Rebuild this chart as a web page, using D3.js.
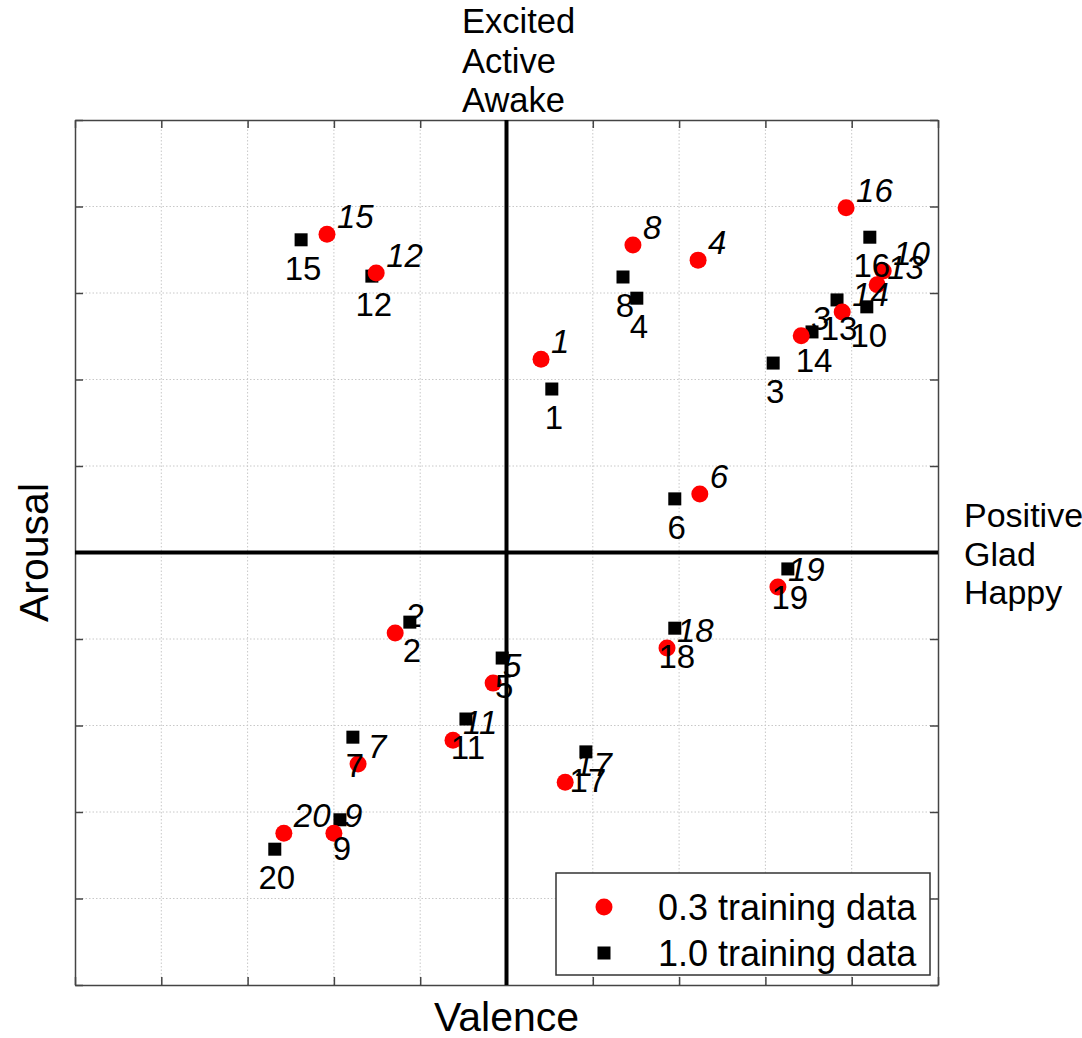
<!DOCTYPE html>
<html>
<head>
<meta charset="utf-8">
<script src="https://cdn.jsdelivr.net/npm/d3@7"></script>
<style>
  html, body { margin: 0; padding: 0; background: #fff; }
  svg { display: block; font-family: "Liberation Sans", Arial, Helvetica, sans-serif; }
</style>
</head>
<body>
<svg id="chart" width="1082" height="1038"></svg>
<script>
// Stimulus ids shown next to each marker
const ids = ["1","2","3","4","5","6","7","8","9","10","11","12","13","14","15","16","17","18","19","20"];

// Valence / arousal estimates with 0.3 of the training data
const valence03 = [0.080,-0.258,0.683,0.444,-0.031,0.448,-0.344,0.293,-0.400,0.873,-0.124,-0.302,0.859,0.778,-0.416,0.787,0.136,0.372,0.629,-0.516];
const arousal03 = [0.447,-0.186,0.501,0.676,-0.302,0.135,-0.489,0.711,-0.649,0.651,-0.434,0.646,0.619,0.556,0.736,0.797,-0.531,-0.221,-0.080,-0.649];

// Valence / arousal estimates with the full training data
const valence10 = [0.105,-0.224,0.618,0.302,-0.010,0.390,-0.356,0.270,-0.386,0.835,-0.094,-0.312,0.766,0.708,-0.476,0.842,0.184,0.390,0.652,-0.537];
const arousal10 = [0.378,-0.161,0.438,0.588,-0.244,0.124,-0.427,0.637,-0.618,0.568,-0.385,0.639,0.584,0.510,0.723,0.729,-0.461,-0.175,-0.038,-0.686];

const tickValues = [-1,-0.8,-0.6,-0.4,-0.2,0,0.2,0.4,0.6,0.8,1];
const seriesNames = ["0.3 training data", "1.0 training data"];
const arousalWords = ["Excited", "Active", "Awake"];
const valenceWords = ["Positive", "Glad", "Happy"];

const pts03 = ids.map((id, i) => ({id, v: valence03[i], a: arousal03[i]}));
const pts10 = ids.map((id, i) => ({id, v: valence10[i], a: arousal10[i]}));

const margin = {left: 75, right: 144, top: 120, bottom: 53};
const W = 1082, H = 1038;
const svg = d3.select("#chart");

const x = d3.scaleLinear().domain([-1, 1]).range([margin.left, W - margin.right]);
const y = d3.scaleLinear().domain([-1, 1]).range([H - margin.bottom, margin.top]);

const g = svg.append("g");

// dotted grid
g.append("g").selectAll("line.gx").data(tickValues.slice(1, -1)).join("line")
  .attr("x1", d => x(d)).attr("x2", d => x(d))
  .attr("y1", y(-1)).attr("y2", y(1))
  .attr("stroke", "#c8c8c8").attr("stroke-width", 1).attr("stroke-dasharray", "1.5,2");
g.append("g").selectAll("line.gy").data(tickValues.slice(1, -1)).join("line")
  .attr("y1", d => y(d)).attr("y2", d => y(d))
  .attr("x1", x(-1)).attr("x2", x(1))
  .attr("stroke", "#c8c8c8").attr("stroke-width", 1).attr("stroke-dasharray", "1.5,2");

// box axes with inward ticks and no tick labels
function styleAxis(sel) {
  sel.select(".domain").attr("stroke", "#444").attr("stroke-width", 1.5);
  sel.selectAll(".tick line").attr("stroke", "#444").attr("stroke-width", 1.5);
  sel.selectAll(".tick text").remove();
}
g.append("g").attr("transform", `translate(0,${y(-1)})`)
  .call(d3.axisBottom(x).tickValues(tickValues).tickSizeInner(-8).tickSizeOuter(0)).call(styleAxis);
g.append("g").attr("transform", `translate(0,${y(1)})`)
  .call(d3.axisTop(x).tickValues(tickValues).tickSizeInner(-8).tickSizeOuter(0)).call(styleAxis);
g.append("g").attr("transform", `translate(${x(-1)},0)`)
  .call(d3.axisLeft(y).tickValues(tickValues).tickSizeInner(-8).tickSizeOuter(0)).call(styleAxis);
g.append("g").attr("transform", `translate(${x(1)},0)`)
  .call(d3.axisRight(y).tickValues(tickValues).tickSizeInner(-8).tickSizeOuter(0)).call(styleAxis);

// thick zero lines splitting the four quadrants
g.append("line").attr("x1", x(0)).attr("x2", x(0)).attr("y1", y(-1)).attr("y2", y(1))
  .attr("stroke", "#000").attr("stroke-width", 4);
g.append("line").attr("y1", y(0)).attr("y2", y(0)).attr("x1", x(-1)).attr("x2", x(1))
  .attr("stroke", "#000").attr("stroke-width", 4);

// markers: full-data squares, reduced-data circles
const sq = 13;
g.append("g").selectAll("rect").data(pts10).join("rect")
  .attr("x", d => x(d.v) - sq / 2).attr("y", d => y(d.a) - sq / 2)
  .attr("width", sq).attr("height", sq).attr("fill", "#000");
g.append("g").selectAll("circle").data(pts03).join("circle")
  .attr("cx", d => x(d.v)).attr("cy", d => y(d.a)).attr("r", 8.5).attr("fill", "#ff0000");

// ids: upright below each square, italic up-right of each circle
g.append("g").selectAll("text").data(pts10).join("text")
  .attr("x", d => x(d.v) + 2).attr("y", d => y(d.a) + 40)
  .attr("text-anchor", "middle").attr("font-size", 33).attr("fill", "#000")
  .text(d => d.id);
g.append("g").selectAll("text").data(pts03).join("text")
  .attr("x", d => x(d.v) + 10).attr("y", d => y(d.a) - 6)
  .attr("text-anchor", "start").attr("font-size", 33).attr("font-style", "italic").attr("fill", "#000")
  .text(d => d.id);

// axis titles
svg.append("text").attr("x", x(0)).attr("y", 1031).attr("text-anchor", "middle")
  .attr("font-size", 41).text("Valence");
svg.append("text").attr("transform", `translate(48,${y(0)}) rotate(-90)`).attr("text-anchor", "middle")
  .attr("font-size", 41).text("Arousal");

// quadrant descriptors
svg.append("g").selectAll("text").data(arousalWords).join("text")
  .attr("x", 462).attr("y", (d, i) => 33 + i * 39.5).attr("font-size", 34.5).text(d => d);
svg.append("g").selectAll("text").data(valenceWords).join("text")
  .attr("x", 964).attr("y", (d, i) => 527 + i * 38.5).attr("font-size", 34).text(d => d);

// legend
const lg = svg.append("g");
lg.append("rect").attr("x", 556).attr("y", 873).attr("width", 374).attr("height", 102)
  .attr("fill", "#fff").attr("stroke", "#333").attr("stroke-width", 1.5);
lg.append("circle").attr("cx", 604).attr("cy", 907).attr("r", 8.5).attr("fill", "#ff0000");
lg.append("rect").attr("x", 604 - sq / 2).attr("y", 953 - sq / 2).attr("width", sq).attr("height", sq).attr("fill", "#000");
lg.selectAll("text").data(seriesNames).join("text")
  .attr("x", 658).attr("y", (d, i) => 920 + i * 46).attr("font-size", 36).text(d => d);
</script>
</body>
</html>
